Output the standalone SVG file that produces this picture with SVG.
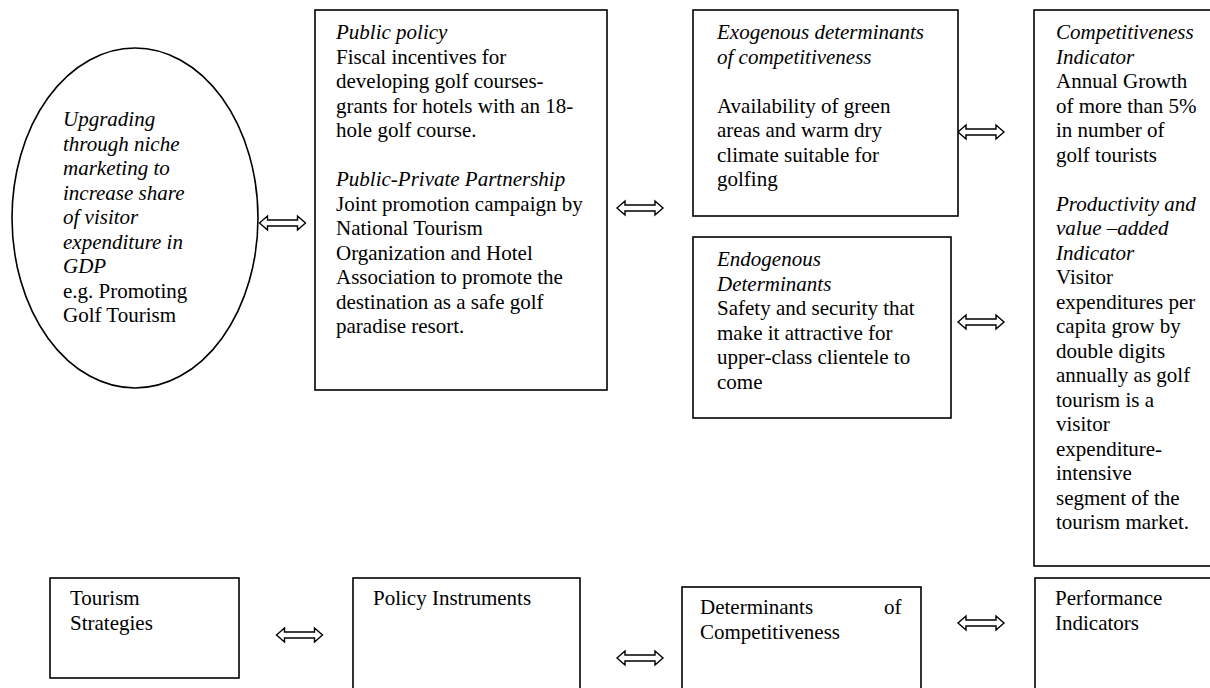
<svg xmlns="http://www.w3.org/2000/svg" xmlns:xlink="http://www.w3.org/1999/xlink" width="1210" height="688" viewBox="0 0 1210 688">
<style>
.box{fill:#fff;stroke:#000;stroke-width:1.6}
.t{font-family:"Liberation Serif","Times New Roman",serif;font-size:21px;fill:#000}
.i{font-style:italic}
.arr{fill:#fff;stroke:#000;stroke-width:1.4;stroke-linejoin:miter}
</style>
<defs>
<path id="dbl" d="M-23,0 L-15,-7 L-15,-3 L15,-3 L15,-7 L23,0 L15,7 L15,3 L-15,3 L-15,7 Z"/>
</defs>
<rect width="1210" height="688" fill="#fff"/>

<g id="connectors">
<use xlink:href="#dbl" class="arr" x="282.5" y="223"/>
<use xlink:href="#dbl" class="arr" x="640" y="208"/>
<use xlink:href="#dbl" class="arr" x="981" y="132"/>
<use xlink:href="#dbl" class="arr" x="981" y="322"/>
<use xlink:href="#dbl" class="arr" x="299.5" y="635"/>
<use xlink:href="#dbl" class="arr" x="640" y="658"/>
<use xlink:href="#dbl" class="arr" x="981" y="623"/>
</g>

<g id="strategy">
<ellipse class="box" cx="135" cy="218" rx="123" ry="170"/>
<text class="t">
<tspan class="i" x="63" y="126">Upgrading</tspan>
<tspan class="i" x="63" y="150.5">through niche</tspan>
<tspan class="i" x="63" y="175">marketing to</tspan>
<tspan class="i" x="63" y="199.5">increase share</tspan>
<tspan class="i" x="63" y="224">of visitor</tspan>
<tspan class="i" x="63" y="248.5">expenditure in</tspan>
<tspan class="i" x="63" y="273">GDP</tspan>
<tspan x="63" y="297.5">e.g. Promoting</tspan>
<tspan x="63" y="322">Golf Tourism</tspan>
</text>
</g>

<g id="policy">
<rect class="box" x="315" y="10" width="292" height="380"/>
<text class="t">
<tspan class="i" x="336" y="39">Public policy</tspan>
<tspan x="336" y="63.5">Fiscal incentives for</tspan>
<tspan x="336" y="88">developing golf courses-</tspan>
<tspan x="336" y="112.5">grants for hotels with an 18-</tspan>
<tspan x="336" y="137">hole golf course.</tspan>
<tspan class="i" x="336" y="186">Public-Private Partnership</tspan>
<tspan x="336" y="210.5">Joint promotion campaign by</tspan>
<tspan x="336" y="235">National Tourism</tspan>
<tspan x="336" y="259.5">Organization and Hotel</tspan>
<tspan x="336" y="284">Association to promote the</tspan>
<tspan x="336" y="308.5">destination as a safe golf</tspan>
<tspan x="336" y="333">paradise resort.</tspan>
</text>
</g>

<g id="exogenous">
<rect class="box" x="693" y="10" width="265" height="206"/>
<text class="t">
<tspan class="i" x="717" y="39">Exogenous determinants</tspan>
<tspan class="i" x="717" y="63.5">of competitiveness</tspan>
<tspan x="717" y="112.5">Availability of green</tspan>
<tspan x="717" y="137">areas and warm dry</tspan>
<tspan x="717" y="161.5">climate suitable for</tspan>
<tspan x="717" y="186">golfing</tspan>
</text>
</g>

<g id="endogenous">
<rect class="box" x="693" y="237" width="258" height="181"/>
<text class="t">
<tspan class="i" x="717" y="266">Endogenous</tspan>
<tspan class="i" x="717" y="290.5">Determinants</tspan>
<tspan x="717" y="315">Safety and security that</tspan>
<tspan x="717" y="339.5">make it attractive for</tspan>
<tspan x="717" y="364">upper-class clientele to</tspan>
<tspan x="717" y="388.5">come</tspan>
</text>
</g>

<g id="indicators">
<rect class="box" x="1034" y="10" width="190" height="556"/>
<text class="t">
<tspan class="i" x="1056" y="39">Competitiveness</tspan>
<tspan class="i" x="1056" y="63.5">Indicator</tspan>
<tspan x="1056" y="88">Annual Growth</tspan>
<tspan x="1056" y="112.5">of more than 5%</tspan>
<tspan x="1056" y="137">in number of</tspan>
<tspan x="1056" y="161.5">golf tourists</tspan>
<tspan class="i" x="1056" y="210.5">Productivity and</tspan>
<tspan class="i" x="1056" y="235">value –added</tspan>
<tspan class="i" x="1056" y="259.5">Indicator</tspan>
<tspan x="1056" y="284">Visitor</tspan>
<tspan x="1056" y="308.5">expenditures per</tspan>
<tspan x="1056" y="333">capita grow by</tspan>
<tspan x="1056" y="357.5">double digits</tspan>
<tspan x="1056" y="382">annually as golf</tspan>
<tspan x="1056" y="406.5">tourism is a</tspan>
<tspan x="1056" y="431">visitor</tspan>
<tspan x="1056" y="455.5">expenditure-</tspan>
<tspan x="1056" y="480">intensive</tspan>
<tspan x="1056" y="504.5">segment of the</tspan>
<tspan x="1056" y="529">tourism market.</tspan>
</text>
</g>

<g id="tourism-strategies">
<rect class="box" x="50" y="578" width="189" height="100"/>
<text class="t"><tspan x="70" y="605">Tourism</tspan><tspan x="70" y="629.5">Strategies</tspan></text>
</g>

<g id="policy-instruments">
<rect class="box" x="353" y="578" width="227" height="130"/>
<text class="t" x="373" y="605">Policy Instruments</text>
</g>

<g id="determinants">
<rect class="box" x="682" y="587" width="239" height="130"/>
<text class="t"><tspan x="700" y="614">Determinants</tspan><tspan x="884" y="614">of</tspan><tspan x="700" y="638.5">Competitiveness</tspan></text>
</g>

<g id="performance">
<rect class="box" x="1035" y="578" width="190" height="130"/>
<text class="t"><tspan x="1055" y="605">Performance</tspan><tspan x="1055" y="629.5">Indicators</tspan></text>
</g>
</svg>
